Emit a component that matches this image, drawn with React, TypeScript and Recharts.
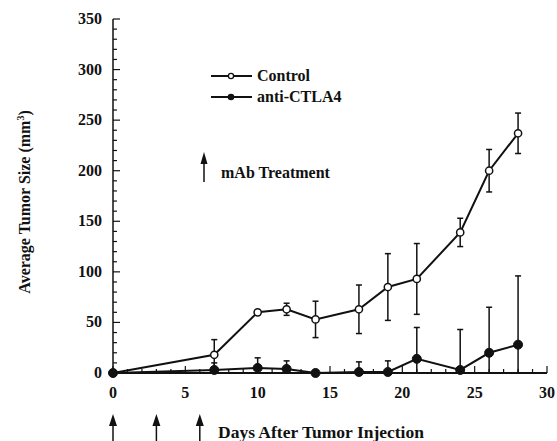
import { LineChart, Line, XAxis, YAxis, ErrorBar, ReferenceDot } from 'recharts'

const days = [0, 7, 10, 12, 14, 17, 19, 21, 24, 26, 28]
const control = [0, 18, 60, 63, 53, 63, 85, 93, 139, 200, 237]
const controlErr = [0, 15, 2, 6, 18, 24, 33, 35, 14, 21, 20]
const antiCtla4 = [0, 3, 5, 4, 0, 1, 1, 14, 3, 20, 28]
const antiCtla4Err = [0, 7, 10, 8, 0, 10, 11, 31, 40, 45, 68]
const treatmentDays = [0, 3, 6]

const xMajor = [0, 5, 10, 15, 20, 25, 30]
const yMajor = [0, 50, 100, 150, 200, 250, 300, 350]
const xTicks = Array.from({ length: 31 }, (_, i) => i)
const yTicks = Array.from({ length: 36 }, (_, i) => i * 10)

const INK = '#111'
const serif = { fontFamily: 'Liberation Serif, Times New Roman, serif', fontWeight: 700 }

// anti-CTLA4 bars are cut at zero, so the lower error never goes below the axis
const rows = days.map((d, i) => ({
  day: d,
  control: control[i],
  controlErr: controlErr[i],
  anti: antiCtla4[i],
  antiErr: [Math.min(antiCtla4[i], antiCtla4Err[i]), antiCtla4Err[i]],
}))

function XTick({ x, y, payload }: any) {
  const major = xMajor.includes(payload.value)
  return (
    <g>
      <line x1={x} x2={x} y1={y} y2={y - (major ? 7 : 4)} stroke={INK} strokeWidth={1.2} />
      {major && (
        <text x={x} y={y + 25} textAnchor="middle" style={{ ...serif, fontSize: 16 }} fill={INK}>
          {payload.value}
        </text>
      )}
    </g>
  )
}

function YTick({ x, y, payload }: any) {
  const major = yMajor.includes(payload.value)
  return (
    <g>
      <line x1={x} x2={x + (major ? 7 : 4)} y1={y} y2={y} stroke={INK} strokeWidth={1.2} />
      {major && (
        <text x={x - 11} y={y + 5} textAnchor="end" style={{ ...serif, fontSize: 16 }} fill={INK}>
          {payload.value}
        </text>
      )}
    </g>
  )
}

// upward arrow under the axis for each antibody dose
function DoseArrow({ cx, cy }: any) {
  const top = cy + 41
  return (
    <g>
      <polygon points={`${cx},${top} ${cx - 4},${top + 12} ${cx + 4},${top + 12}`} fill={INK} />
      <line x1={cx} x2={cx} y1={top + 10} y2={cy + 70} stroke={INK} strokeWidth={1.5} />
    </g>
  )
}

function Annotations() {
  return (
    <g fill={INK}>
      <line x1={211} x2={252} y1={76} y2={76} stroke={INK} strokeWidth={2} />
      <circle cx={231} cy={76} r={2.6} fill="#fff" stroke={INK} strokeWidth={1.3} />
      <text x={257} y={81} style={{ ...serif, fontSize: 16 }}>Control</text>
      <line x1={211} x2={252} y1={97} y2={97} stroke={INK} strokeWidth={2} />
      <circle cx={231} cy={97} r={3.3} fill={INK} />
      <text x={257} y={102} style={{ ...serif, fontSize: 16 }}>anti-CTLA4</text>

      <polygon points="204,152 200.5,164 207.5,164" fill={INK} />
      <line x1={204} x2={204} y1={162} y2={182} stroke={INK} strokeWidth={1.5} />
      <text x={221} y={178} style={{ ...serif, fontSize: 16 }}>mAb Treatment</text>

      <text x={218} y={438} style={{ ...serif, fontSize: 17.5 }}>Days After Tumor Injection</text>
      <text transform="translate(30,202) rotate(-90)" textAnchor="middle" style={{ ...serif, fontSize: 16 }}>
        Average Tumor Size (mm<tspan dy={-6} style={{ fontSize: 10 }}>3</tspan>
        <tspan dy={6}>)</tspan>
      </text>
    </g>
  )
}

export default function App() {
  return (
    <div style={{ position: 'absolute', left: 0, top: 0, width: 557, height: 441, background: '#fff' }}>
      <LineChart width={557} height={441} data={rows} margin={{ top: 19, right: 10, left: 103, bottom: 58 }}>
        <XAxis
          dataKey="day"
          type="number"
          domain={[0, 30]}
          ticks={xTicks}
          interval={0}
          height={10}
          tickSize={0}
          tickMargin={0}
          tickLine={false}
          tick={<XTick />}
          axisLine={{ stroke: INK, strokeWidth: 2 }}
        />
        <YAxis
          type="number"
          domain={[0, 350]}
          ticks={yTicks}
          interval={0}
          width={10}
          tickSize={0}
          tickMargin={0}
          tickLine={false}
          tick={<YTick />}
          axisLine={{ stroke: INK, strokeWidth: 1.5 }}
        />
        <Line
          dataKey="control"
          type="linear"
          stroke={INK}
          strokeWidth={2}
          dot={{ r: 3.6, fill: '#fff', stroke: INK, strokeWidth: 1.5 }}
          activeDot={false}
          isAnimationActive={false}
        >
          <ErrorBar dataKey="controlErr" direction="y" width={3} stroke={INK} strokeWidth={1.5} />
        </Line>
        <Line
          dataKey="anti"
          type="linear"
          stroke={INK}
          strokeWidth={2}
          dot={{ r: 4.5, fill: INK, stroke: INK, strokeWidth: 1 }}
          activeDot={false}
          isAnimationActive={false}
        >
          <ErrorBar dataKey="antiErr" direction="y" width={3} stroke={INK} strokeWidth={1.5} />
        </Line>
        {treatmentDays.map((d) => (
          <ReferenceDot
            key={d}
            x={d}
            y={0}
            ifOverflow="visible"
            shape={(p: any) => <DoseArrow cx={p.cx} cy={p.cy} />}
          />
        ))}
        <Annotations />
      </LineChart>
    </div>
  )
}
